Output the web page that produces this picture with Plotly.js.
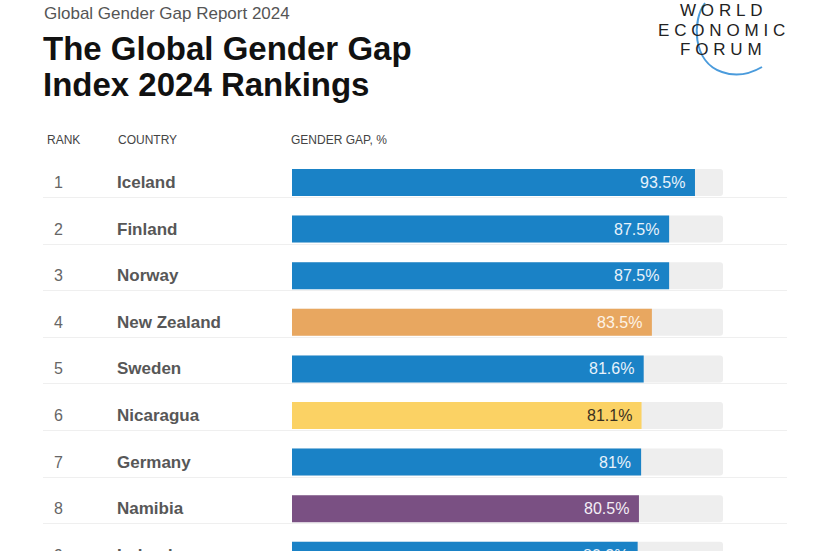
<!DOCTYPE html>
<html>
<head>
<meta charset="utf-8">
<script src="https://cdn.plot.ly/plotly-3.0.1.min.js"></script>
<style>
  html, body { margin: 0; padding: 0; background: #fff; overflow: hidden; }
  #chart { width: 829px; height: 600px; }
</style>
</head>
<body>
<div id="chart"></div>
<script>
// ---- data ----
const ranks = [1, 2, 3, 4, 5, 6, 7, 8, 9];
const countries = ['Iceland', 'Finland', 'Norway', 'New Zealand', 'Sweden', 'Nicaragua', 'Germany', 'Namibia', 'Ireland'];
const scores = [93.5, 87.5, 87.5, 83.5, 81.6, 81.1, 81.0, 80.5, 80.2];
const scoreLabels = ['93.5%', '87.5%', '87.5%', '83.5%', '81.6%', '81.1%', '81%', '80.5%', '80.2%'];
const regions = ['Europe', 'Europe', 'Europe', 'East Asia and the Pacific', 'Europe', 'Latin America and the Caribbean', 'Europe', 'Sub-Saharan Africa', 'Europe'];
const scaleMax = 100;
const headers = ['RANK', 'COUNTRY', 'GENDER GAP, %'];

// ---- styles ----
const regionColors = {
  'Europe': '#1a82c6',
  'East Asia and the Pacific': '#e8a760',
  'Latin America and the Caribbean': '#fbd264',
  'Sub-Saharan Africa': '#7a5083'
};
const regionText = {
  'Europe': '#e8f2fb',
  'East Asia and the Pacific': '#fdf3e6',
  'Latin America and the Caribbean': '#3a3020',
  'Sub-Saharan Africa': '#f4eef6'
};

const W = 829, H = 600;
const px = p => p / W;
const py = p => 1 - p / H;

// pixel geometry of the table
const barStart = 292, unit = 4.31;      // px per percentage point
const row1 = 182.5, rowStep = 46.6;
const lineLeft = 43, lineRight = 787;

const xr = [(lineLeft - barStart) / unit, (lineRight - barStart) / unit];
const yr = [1 + (H - row1) / rowStep, 1 - row1 / rowStep];

const FONT = 'Liberation Sans, Arial, sans-serif';

const traces = [
  {
    type: 'bar', orientation: 'h',
    x: ranks.map(() => scaleMax), y: ranks,
    width: 0.58,
    marker: { color: '#eeeeee' },
    hoverinfo: 'skip', showlegend: false
  },
  {
    type: 'bar', orientation: 'h',
    x: scores, y: ranks,
    width: 0.58,
    marker: { color: regions.map(r => regionColors[r]) },
    hoverinfo: 'skip', showlegend: false
  }
];

const annotations = [];
// subtitle & title
annotations.push({ xref: 'paper', yref: 'paper', x: px(42), y: py(13), xanchor: 'left', yanchor: 'middle',
  text: 'Global Gender Gap Report 2024', showarrow: false, font: { family: FONT, size: 17, color: '#555' } });
annotations.push({ xref: 'paper', yref: 'paper', x: px(41), y: py(48.5), xanchor: 'left', yanchor: 'middle',
  text: 'The Global Gender Gap', showarrow: false, font: { family: FONT, size: 33, color: '#111', weight: 'bold' } });
annotations.push({ xref: 'paper', yref: 'paper', x: px(41), y: py(84), xanchor: 'left', yanchor: 'middle',
  text: 'Index 2024 Rankings', showarrow: false, font: { family: FONT, size: 33, color: '#111', weight: 'bold' } });

// logo text (letter-spaced)
const sp = s => s.split('').join('\u2009\u200a');
[['WORLD', 10.5], ['ECONOMIC', 30], ['FORUM', 49.5]].forEach(([t, y]) => {
  annotations.push({ xref: 'paper', yref: 'paper', x: px(721), y: py(y), xanchor: 'center', yanchor: 'middle',
    text: sp(t), showarrow: false, font: { family: FONT, size: 17, color: '#222' } });
});

// headers
const headerX = [45, 116, 289];
headers.forEach((h, i) => {
  annotations.push({ xref: 'paper', yref: 'paper', x: px(headerX[i]), y: py(140.5), xanchor: 'left', yanchor: 'middle',
    text: h, showarrow: false, font: { family: FONT, size: 12, color: '#444' } });
});

// rows
ranks.forEach((r, i) => {
  annotations.push({ xref: 'paper', yref: 'y', x: px(52), y: r, xanchor: 'left', yanchor: 'middle',
    text: String(r), showarrow: false, font: { family: FONT, size: 16, color: '#666' } });
  annotations.push({ xref: 'paper', yref: 'y', x: px(115), y: r, xanchor: 'left', yanchor: 'middle',
    text: countries[i], showarrow: false, font: { family: FONT, size: 17, color: '#575757', weight: 'bold' } });
  annotations.push({ xref: 'x', yref: 'y', x: scores[i], y: r, xanchor: 'right', yanchor: 'middle', xshift: -8,
    text: scoreLabels[i], showarrow: false, font: { family: FONT, size: 16, color: regionText[regions[i]] } });
});

// logo arc (pixel path converted to paper coords)
function pathFromPixels(cmds) {
  return cmds.map(c => c[0] + ' ' + c.slice(1).map((v, k) => (k % 2 === 0 ? px(v) : py(v)).toFixed(5)).join(' ')).join(' ');
}
const arcPath = pathFromPixels([
  ['M', 705, 3],
  ['C', 692, 20, 692, 62, 722, 72],
  ['C', 736, 77, 750, 74, 762, 67]
]);

const layout = {
  width: W, height: H,
  margin: { l: 0, r: 0, t: 0, b: 0 },
  paper_bgcolor: '#fff', plot_bgcolor: '#fff',
  barmode: 'overlay',
  barcornerradius: 3,
  showlegend: false,
  xaxis: { domain: [px(lineLeft), px(lineRight)], range: xr, showgrid: false, zeroline: false,
    showticklabels: false, ticks: '', fixedrange: true },
  yaxis: { range: yr, tickmode: 'array', tickvals: ranks.map(r => r + 0.32), showgrid: true,
    gridcolor: '#efefef', gridwidth: 1, zeroline: false, showticklabels: false, ticks: '', fixedrange: true },
  annotations: annotations,
  shapes: [{ type: 'path', xref: 'paper', yref: 'paper', path: arcPath, layer: 'below',
    line: { color: '#4a9bdc', width: 2 } }]
};

Plotly.newPlot('chart', traces, layout, { staticPlot: true, displayModeBar: false });
</script>
</body>
</html>
